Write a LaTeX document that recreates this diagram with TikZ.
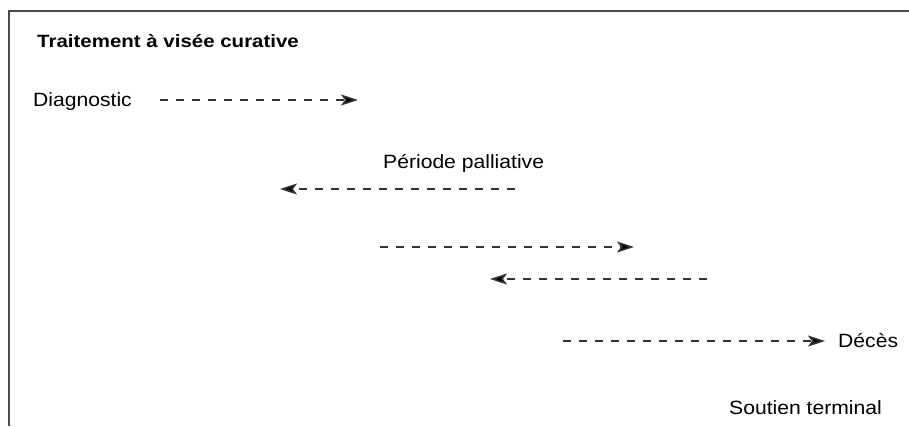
\documentclass[tikz,border=0pt]{standalone}
\usepackage{fontspec}
\setmainfont{Liberation Sans}[FakeStretch=1.1]
\newfontfamily\titlefont{Liberation Sans}[FakeStretch=1.15]
\usetikzlibrary{arrows.meta}
\begin{document}
\begin{tikzpicture}[x=1pt,y=-1pt,
  lbl/.style={inner sep=0pt, anchor=base west, font=\fontsize{19.2}{22}\selectfont},
  ttl/.style={inner sep=0pt, anchor=base west, font=\titlefont\bfseries\fontsize{17.8}{21}\selectfont},
  dasharrow/.style={draw=black!80, line width=1.5pt, dash pattern=on 8pt off 8pt,
    -{Stealth[length=17pt,width=11pt,inset=4pt,fill=black]}},
  frame/.style={draw=black!70, line width=1.5pt}]
\useasboundingbox (0,0) rectangle (909,426);
\draw[frame] (9,426) -- (9,11) -- (909,11);
\node[ttl] (title) at (37,47) {Traitement à visée curative};
\node[lbl] (diag) at (33,106) {Diagnostic};
\node[lbl] (pall) at (383,168) {Période palliative};
\node[lbl] (deces) at (838,347) {Décès};
\node[lbl] (sout) at (729,414) {Soutien terminal};
\coordinate (a1s) at (160,100);
\coordinate (a1e) at (358,100);
\coordinate (a2s) at (515,189);
\coordinate (a2e) at (280,189);
\coordinate (a3s) at (380,247);
\coordinate (a3e) at (634,247);
\coordinate (a4s) at (707,279);
\coordinate (a4e) at (490,279);
\coordinate (a5s) at (563,341);
\coordinate (a5e) at (825,341);
\draw[dasharrow] (a1s) -- (a1e);
\draw[dasharrow] (a2s) -- (a2e);
\draw[dasharrow] (a3s) -- (a3e);
\draw[dasharrow] (a4s) -- (a4e);
\draw[dasharrow] (a5s) -- (a5e);
\end{tikzpicture}
\end{document}
